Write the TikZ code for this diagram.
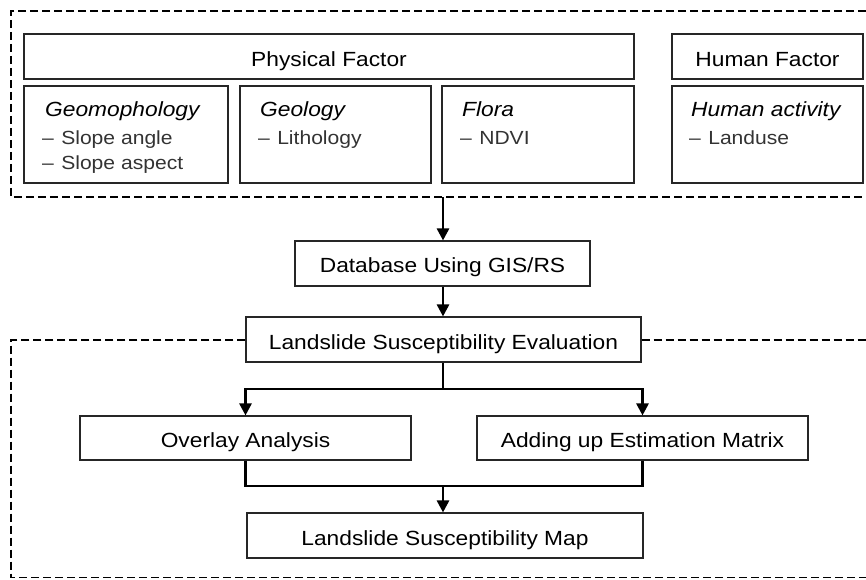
\documentclass[tikz,border=0pt]{standalone}
\usepackage{fontspec}
\setmainfont[FakeStretch=1.11]{Liberation Sans}
\usetikzlibrary{arrows.meta}
\newcommand{\itemdash}{–\hspace{1.5pt} }
\begin{document}
\begin{tikzpicture}[x=1pt,y=-1pt,
  box/.style={draw=black!85,line width=1.1pt,rectangle,inner sep=0pt,anchor=center},
  lbl/.style={font=\fontsize{20.5}{24}\selectfont,inner sep=0pt,anchor=base},
  ttl/.style={font=\fontsize{20.5}{24}\selectfont\itshape,inner sep=0pt,anchor=base west},
  itm/.style={font=\fontsize{19}{22}\selectfont,text=black!80,inner sep=0pt,anchor=base west},
  conn/.style={line width=2.6pt},
  arr/.style={line width=2.6pt,-{Triangle[width=12pt,length=12pt]}},
  grp/.style={line width=1.4pt,dash pattern=on 8pt off 4pt}]
\useasboundingbox (0,0) rectangle (866,580);
% group frames
\draw[grp] (866,11) -- (11,11) -- (11,197) -- (866,197);
% boxes
\node[box,minimum width=610,minimum height=45] (phys) at (329,56.5) {};
\node[lbl] (physt) at (329,66.5) {Physical Factor};
\node[box,minimum width=191,minimum height=45] (human) at (767.5,56.5) {};
\node[lbl] (humant) at (767.5,66.5) {Human Factor};
\node[box,minimum width=204,minimum height=97] (geom) at (126,134.5) {};
\node[box,minimum width=191,minimum height=97] (geol) at (335.5,134.5) {};
\node[box,minimum width=192,minimum height=97] (flora) at (538,134.5) {};
\node[box,minimum width=191,minimum height=97] (hact) at (767.5,134.5) {};
\node[ttl] (geomt) at (45,116.5) {Geomophology};
\node[itm] (geom1) at (42,145) {\itemdash Slope angle};
\node[itm] (geom2) at (42,169.5) {\itemdash Slope aspect};
\node[ttl] (geolt) at (260,116.5) {Geology};
\node[itm] (geol1) at (258,145) {\itemdash Lithology};
\node[ttl] (florat) at (462,116.5) {Flora};
\node[itm] (flora1) at (460,145) {\itemdash NDVI};
\node[ttl] (hactt) at (691,116.5) {Human activity};
\node[itm] (hact1) at (689,145) {\itemdash Landuse};
\node[box,minimum width=295,minimum height=45] (db) at (442.5,263.5) {};
\node[lbl] at (442.5,272.5) {Database Using GIS/RS};
\node[box,minimum width=395,minimum height=45] (eval) at (443.5,339.5) {};
\node[lbl] at (443.5,349) {Landslide Susceptibility Evaluation};
\node[box,minimum width=331,minimum height=44] (overlay) at (245.5,438) {};
\node[lbl] at (245.5,447.5) {Overlay Analysis};
\node[box,minimum width=331,minimum height=44] (adding) at (642.5,438) {};
\node[lbl] at (642.5,447.5) {Adding up Estimation Matrix};
\node[box,minimum width=396,minimum height=45] (map) at (445,535.5) {};
\node[lbl] at (445,545) {Landslide Susceptibility Map};
% lower frame
\draw[grp] (eval.west |- 0,340) -- (11,340) -- (11,577.5) -- (866,577.5);
\draw[grp] (eval.east |- 0,340) -- (866,340);
% connectors
\coordinate (topb) at (443,197);
\coordinate (split) at (443,389);
\coordinate (merge) at (443,486);
\draw[arr] (topb) -- (topb |- db.north);
\draw[arr] (topb |- db.south) -- (topb |- eval.north);
\draw[conn] (topb |- eval.south) -- (split);
\draw[arr] (split) -| (overlay.north);
\draw[arr] (split) -| (adding.north);
\draw[conn] (overlay.south) |- (merge);
\draw[conn] (adding.south) |- (merge);
\draw[arr] (merge) -- (merge |- map.north);
\end{tikzpicture}
\end{document}
